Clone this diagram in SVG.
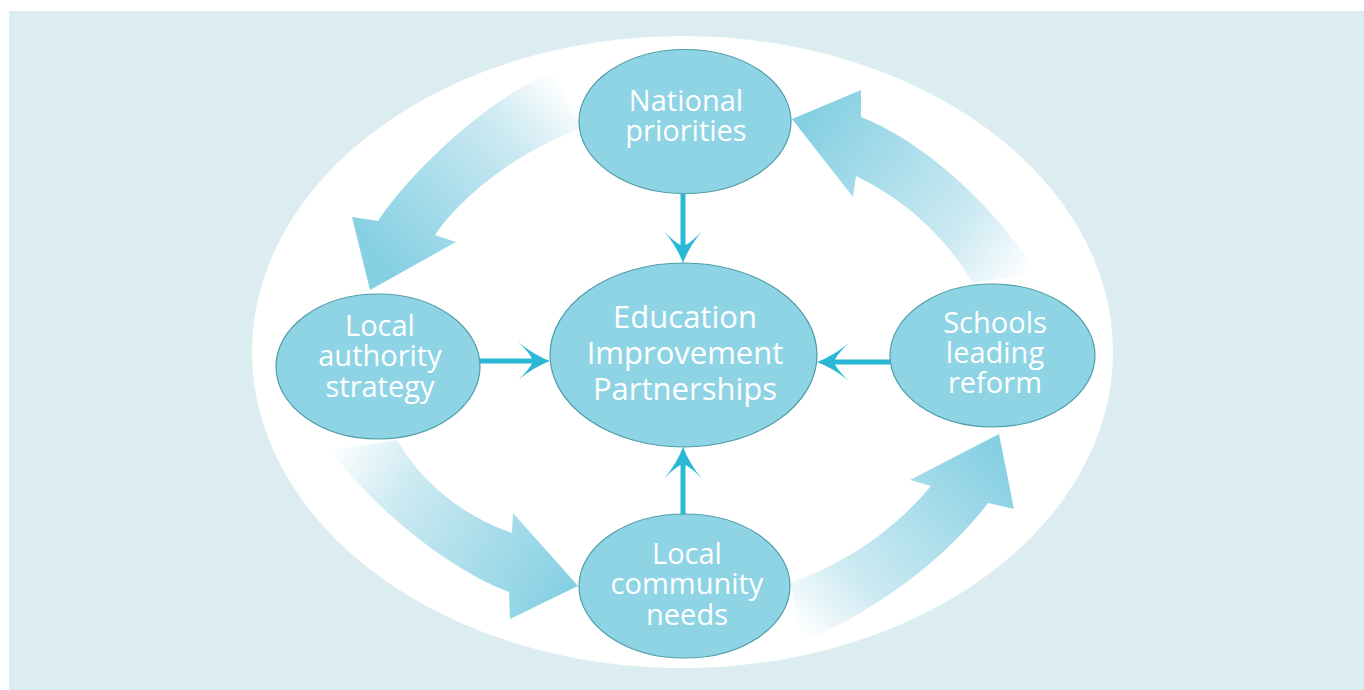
<svg xmlns="http://www.w3.org/2000/svg" width="1364" height="690" viewBox="0 0 1364 690">
<style>
.node{fill:#8ed4e5;stroke:#4e9da8;stroke-width:1.2}
.lbl{font-family:"Open Sans","Noto Sans",sans-serif;font-size:29px;fill:#ffffff;text-anchor:middle}
.big{font-size:31px}
.conn{stroke:#2bb8d6;stroke-width:5;fill:none;marker-end:url(#head)}
</style>
<defs>
<marker id="head" markerUnits="userSpaceOnUse" viewBox="0 -20 40 40" markerWidth="40" markerHeight="40" refX="14" refY="0" orient="auto">
<path d="M32,0 Q16,-6 0,-19 Q10,-10 14,-2.5 L14,2.5 Q10,10 0,19 Q16,6 32,0 Z" fill="#2bb8d6"/>
</marker>
<linearGradient id="gTL" gradientUnits="userSpaceOnUse" x1="572" y1="92" x2="385" y2="262">
<stop offset="0" stop-color="#ffffff"/><stop offset="0.3" stop-color="#cdeaf2"/><stop offset="1" stop-color="#86d0e3"/>
</linearGradient>
<linearGradient id="gTR" gradientUnits="userSpaceOnUse" x1="1025" y1="280" x2="805" y2="125">
<stop offset="0" stop-color="#ffffff"/><stop offset="0.3" stop-color="#cdeaf2"/><stop offset="1" stop-color="#86d0e3"/>
</linearGradient>
<linearGradient id="gBL" gradientUnits="userSpaceOnUse" x1="335" y1="440" x2="570" y2="590">
<stop offset="0" stop-color="#ffffff"/><stop offset="0.3" stop-color="#cdeaf2"/><stop offset="1" stop-color="#86d0e3"/>
</linearGradient>
<linearGradient id="gBR" gradientUnits="userSpaceOnUse" x1="800" y1="635" x2="1000" y2="455">
<stop offset="0" stop-color="#ffffff"/><stop offset="0.3" stop-color="#cdeaf2"/><stop offset="1" stop-color="#86d0e3"/>
</linearGradient>
</defs>
<rect x="9" y="11" width="1355" height="679" fill="#dcedf1"/>
<ellipse cx="682.5" cy="352" rx="430.5" ry="316" fill="#ffffff"/>
<g id="cycle-arrows">
<path d="M553,73 C500,90 415,165 378,221 L352,217 L370,290 L456,242 L435,235 C462,195 520,150 582,128 Z" fill="url(#gTL)"/>
<path d="M973,283 C950,245 915,205 856,176 L853,197 L792,119 L861,90 L861,117 C920,140 990,200 1037,273 Z" fill="url(#gTR)"/>
<path d="M397,440 C420,480 460,515 512,533 L513,513 L578,586 L510,619 L509,592 C450,570 375,510 330,450 Z" fill="url(#gBL)"/>
<path d="M790,583 C840,565 890,535 931,486 L910,480 L999,434 L1014,509 L988,503 C960,540 900,600 803,642 Z" fill="url(#gBR)"/>
</g>
<g id="connectors">
<line class="conn" x1="683" y1="194" x2="683" y2="245"/>
<line class="conn" x1="480" y1="361" x2="532" y2="361"/>
<line class="conn" x1="890" y1="362" x2="835" y2="362"/>
<line class="conn" x1="683" y1="514" x2="683" y2="465"/>
</g>
<g id="national">
<ellipse class="node" cx="685" cy="121.5" rx="106" ry="72"/>
<text class="lbl" x="686" y="111">National</text>
<text class="lbl" x="686" y="141">priorities</text>
</g>
<g id="eip">
<ellipse class="node" cx="683.5" cy="355" rx="133.5" ry="92"/>
<text class="lbl big" x="685" y="328">Education</text>
<text class="lbl big" x="685" y="364">Improvement</text>
<text class="lbl big" x="685" y="400">Partnerships</text>
</g>
<g id="local-authority">
<ellipse class="node" cx="378" cy="366.5" rx="102" ry="72.5"/>
<text class="lbl" x="380" y="336">Local</text>
<text class="lbl" x="380" y="366">authority</text>
<text class="lbl" x="380" y="397">strategy</text>
</g>
<g id="schools">
<ellipse class="node" cx="992.5" cy="355.5" rx="102.5" ry="71.5"/>
<text class="lbl" x="995" y="333">Schools</text>
<text class="lbl" x="995" y="363">leading</text>
<text class="lbl" x="995" y="393">reform</text>
</g>
<g id="community">
<ellipse class="node" cx="684.5" cy="586" rx="105.5" ry="72"/>
<text class="lbl" x="687" y="564">Local</text>
<text class="lbl" x="687" y="594">community</text>
<text class="lbl" x="687" y="625">needs</text>
</g>
</svg>
